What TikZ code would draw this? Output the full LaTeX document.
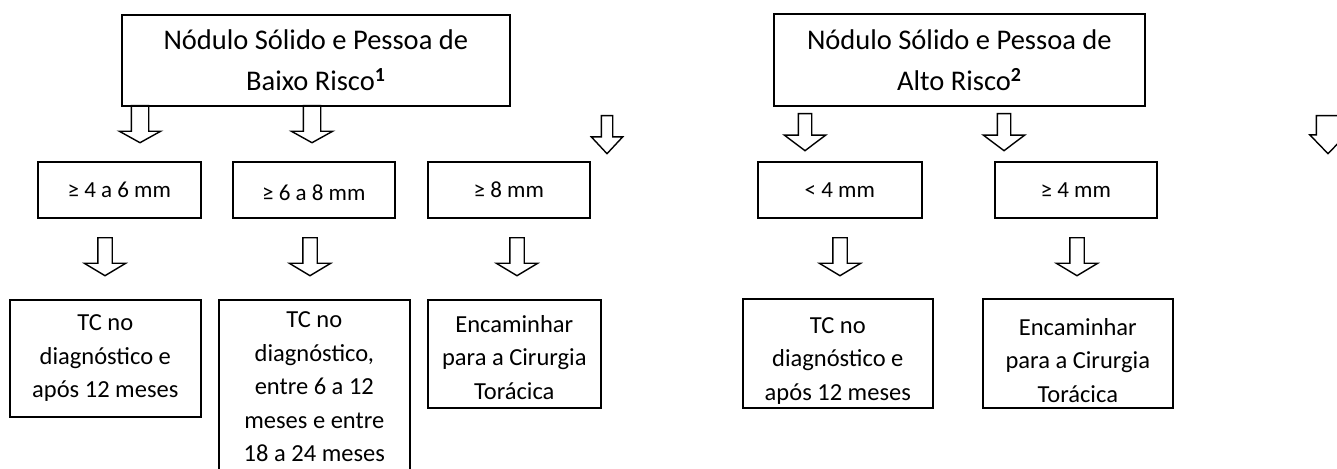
\documentclass[tikz,border=0pt]{standalone}
\usepackage{fontspec}
\setmainfont{Carlito}
\usetikzlibrary{arrows,shapes,positioning}

\begin{document}
\begin{tikzpicture}[x=1pt,y=-1pt,line width=1.6pt]
  \tikzstyle{box}=[draw,rectangle,align=center,inner sep=0pt,anchor=north west,font=\fontsize{24.5}{33.5}\selectfont]
  \tikzstyle{mid}=[font=\fontsize{23}{30}\selectfont]
  \tikzstyle{big}=[font=\fontsize{28.5}{41}\selectfont]
  \tikzstyle{blk}=[single arrow,draw,line width=1.4pt,rotate=-90,anchor=tail,inner xsep=0pt,inner ysep=6.5pt,minimum width=40pt,minimum height=38pt,single arrow head extend=13.5pt,single arrow tip angle=118]

  \useasboundingbox (0,0) rectangle (1337,468);

  % baixo risco
  \node[box,big,minimum width=388pt,minimum height=91pt] (baixo) at (121,14) {Nódulo Sólido e Pessoa de\\Baixo Risco\textsuperscript{\textbf{1}}};
  \node[box,mid,minimum width=163pt,minimum height=56pt] (b46) at (37,161) {≥ 4 a 6 mm};
  \node[box,mid,minimum width=162pt,minimum height=56pt] (b68) at (232,161) {\rule{0pt}{22pt}≥ 6 a 8 mm};
  \node[box,mid,minimum width=162pt,minimum height=56pt] (b8) at (427,161) {≥ 8 mm};
  \node[box,minimum width=191pt,minimum height=117pt] (tc1) at (9,299) {TC no\\diagnóstico e\\após 12 meses};
  \node[box,minimum width=191pt,minimum height=174pt] (tc2) at (218,299) {TC no\\diagnóstico,\\entre 6 a 12\\meses e entre\\18 a 24 meses};
  \node[box,minimum width=173pt,minimum height=108pt] (cir1) at (427,299) {\rule{0pt}{24pt}Encaminhar\\para a Cirurgia\\Torácica};

  \node[blk,inner ysep=8pt,single arrow head extend=12pt,minimum height=37pt,single arrow tip angle=122] (a1) at (140,105) {};
  \node[blk,inner ysep=8pt,single arrow head extend=12pt,minimum height=37pt,single arrow tip angle=122] (a2) at (312,105) {};
  \node[blk,inner ysep=5pt,minimum width=30pt,single arrow head extend=10pt,single arrow tip angle=86] (a3) at (607,115) {};
  \node[blk] (a4) at (105,237) {};
  \node[blk] (a5) at (310,237) {};
  \node[blk] (a6) at (517,237) {};

  % alto risco
  \node[box,big,minimum width=371pt,minimum height=92pt] (alto) at (773,13) {Nódulo Sólido e Pessoa de\\Alto Risco\textsuperscript{\textbf{2}}};
  \node[box,mid,minimum width=164pt,minimum height=56pt] (m4) at (757,161) {< 4 mm};
  \node[box,mid,minimum width=162pt,minimum height=56pt] (p4) at (994,161) {≥ 4 mm};
  \node[box,minimum width=190pt,minimum height=109pt] (tc3) at (742,298) {\rule{0pt}{31pt}TC no\\diagnóstico e\\após 12 meses};
  \node[box,minimum width=190pt,minimum height=109pt] (cir2) at (982,298) {\rule{0pt}{31pt}Encaminhar\\para a Cirurgia\\Torácica};

  \node[blk,inner ysep=6pt,single arrow head extend=14pt,minimum height=37pt,single arrow tip angle=106] (b1) at (805,113) {};
  \node[blk,inner ysep=6pt,single arrow head extend=14pt,minimum height=37pt,single arrow tip angle=106] (b2) at (1004,113) {};
  \node[blk,inner ysep=11pt,minimum width=35pt,single arrow head extend=6.5pt,single arrow tip angle=88] (b3) at (1328,115) {};
  \node[blk] (b4) at (840,237) {};
  \node[blk] (b5) at (1077,237) {};
\end{tikzpicture}
\end{document}
